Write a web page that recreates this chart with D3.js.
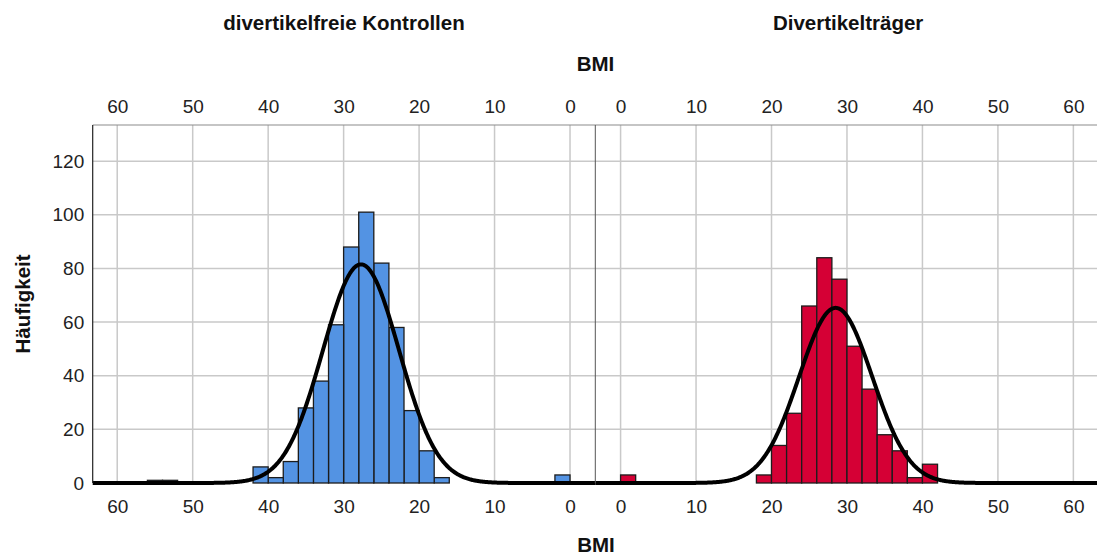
<!DOCTYPE html>
<html>
<head>
<meta charset="utf-8">
<script src="https://cdn.jsdelivr.net/npm/d3@7"></script>
<style>
  html, body { margin: 0; padding: 0; background: #fff; }
  svg { display: block; font-family: "Liberation Sans", Arial, sans-serif; }
</style>
</head>
<body>
<svg id="chart" width="1097" height="556"></svg>
<script>
// BMI histograms, bins of width 2 (lower bin edge -> count)
const binWidth = 2;

const kontrollenBinStart = [0, 16, 18, 20, 22, 24, 26, 28, 30, 32, 34, 36, 38, 40, 52, 54];
const kontrollenCounts   = [3, 2, 12, 27, 58, 82, 101, 88, 59, 38, 28, 8, 2, 6, 1, 1];

const traegerBinStart = [0, 18, 20, 22, 24, 26, 28, 30, 32, 34, 36, 38, 40];
const traegerCounts   = [3, 3, 14, 26, 66, 84, 76, 51, 35, 18, 12, 2, 7];

// fitted normal curves: mean, standard deviation, number of cases
const kontrollenFit = { mean: 27.7, sd: 5.05, n: 516 };
const traegerFit    = { mean: 28.5, sd: 4.85, n: 397 };

const panelTitles = ["divertikelfreie Kontrollen", "Divertikelträger"];
const xTicks = [0, 10, 20, 30, 40, 50, 60];
const yTicks = [0, 20, 40, 60, 80, 100, 120];

const svg = d3.select("#chart");

const plotTop = 125, plotBottom = 483;
const leftX0 = 92.7, mid = 595.3, rightX1 = 1097.9;
const domLo = -3.35, domHi = 63.25;

const y = d3.scaleLinear().domain([0, 133.5]).range([plotBottom, plotTop]);

const panels = [
  { title: panelTitles[0], bins: kontrollenBinStart, counts: kontrollenCounts, fit: kontrollenFit,
    fill: "#5393e3", x: d3.scaleLinear().domain([domHi, domLo]).range([leftX0, mid]), x0: leftX0, x1: mid },
  { title: panelTitles[1], bins: traegerBinStart, counts: traegerCounts, fit: traegerFit,
    fill: "#d50035", x: d3.scaleLinear().domain([domLo, domHi]).range([mid, rightX1]), x0: mid, x1: rightX1 }
];

const gridColor = "#c9c9c9";

// horizontal grid across both panels
svg.append("g")
  .selectAll("line")
  .data(yTicks.filter(d => d > 0))
  .join("line")
  .attr("x1", leftX0).attr("x2", rightX1)
  .attr("y1", d => y(d)).attr("y2", d => y(d))
  .attr("stroke", gridColor).attr("stroke-width", 1.5);

svg.append("defs").selectAll("clipPath")
  .data(panels)
  .join("clipPath")
  .attr("id", (d, i) => "clip" + i)
  .append("rect")
  .attr("x", d => d.x0).attr("y", plotTop - 5)
  .attr("width", d => d.x1 - d.x0).attr("height", plotBottom - plotTop + 10);

panels.forEach((p, i) => {
  const g = svg.append("g").attr("clip-path", `url(#clip${i})`);

  // vertical grid
  g.append("g").selectAll("line")
    .data(xTicks)
    .join("line")
    .attr("x1", d => p.x(d)).attr("x2", d => p.x(d))
    .attr("y1", plotTop).attr("y2", plotBottom)
    .attr("stroke", gridColor).attr("stroke-width", 1.5);

  // bars
  const bars = p.bins.map((b, k) => ({ lo: b, hi: b + binWidth, c: p.counts[k] }));
  g.append("g").selectAll("rect")
    .data(bars)
    .join("rect")
    .attr("x", d => Math.min(p.x(d.lo), p.x(d.hi)))
    .attr("width", d => Math.abs(p.x(d.hi) - p.x(d.lo)))
    .attr("y", d => y(d.c))
    .attr("height", d => y(0) - y(d.c))
    .attr("fill", p.fill)
    .attr("stroke", "#1c1c1c")
    .attr("stroke-width", 1.3);

  // normal curve scaled to counts per bin
  const f = p.fit;
  const dens = v => f.n * binWidth / (f.sd * Math.sqrt(2 * Math.PI)) *
    Math.exp(-0.5 * Math.pow((v - f.mean) / f.sd, 2));
  const pts = d3.range(domLo - 1, domHi + 1, 0.1).map(v => [v, dens(v)]);
  g.append("path")
    .datum(pts)
    .attr("fill", "none")
    .attr("stroke", "#000")
    .attr("stroke-width", 4)
    .attr("stroke-linejoin", "round")
    .attr("d", d3.line().x(d => p.x(d[0])).y(d => y(d[1])));

  // tick labels top and bottom
  const axTop = d3.axisTop(p.x).tickValues(xTicks).tickSize(0).tickPadding(0);
  const axBot = d3.axisBottom(p.x).tickValues(xTicks).tickSize(0).tickPadding(0);
  [[axTop, 113.3], [axBot, 513.3]].forEach(([ax, yy]) => {
    const a = svg.append("g").attr("transform", `translate(0,${yy})`).call(ax);
    a.select(".domain").remove();
    a.selectAll("text")
      .attr("y", 0).attr("dy", 0)
      .attr("font-size", 19)
      .attr("font-family", "Liberation Sans, Arial, sans-serif")
      .attr("fill", "#222");
  });

  // panel title
  svg.append("text")
    .attr("x", (p.x0 + p.x1) / 2 + (i === 1 ? 1.5 : 0))
    .attr("y", 30)
    .attr("text-anchor", "middle")
    .attr("font-size", 20.5)
    .attr("font-weight", "bold")
    .attr("fill", "#111")
    .text(p.title);
});

// frame: top border, panel divider, y axis line
svg.append("line").attr("x1", leftX0).attr("x2", rightX1).attr("y1", plotTop).attr("y2", plotTop)
  .attr("stroke", "#8c8c8c").attr("stroke-width", 1.2);
svg.append("line").attr("x1", mid).attr("x2", mid).attr("y1", plotTop).attr("y2", plotBottom)
  .attr("stroke", "#555").attr("stroke-width", 1);
svg.append("line").attr("x1", leftX0).attr("x2", leftX0).attr("y1", plotTop).attr("y2", plotBottom)
  .attr("stroke", "#222").attr("stroke-width", 1.2);

// y axis labels
const yAx = svg.append("g").attr("transform", `translate(${leftX0},0)`)
  .call(d3.axisLeft(y).tickValues(yTicks).tickSize(0).tickPadding(8.5));
yAx.select(".domain").remove();
yAx.selectAll("text")
  .attr("font-size", 19)
  .attr("font-family", "Liberation Sans, Arial, sans-serif")
  .attr("fill", "#222");

// axis titles
svg.append("text").attr("x", 595.5).attr("y", 70.7).attr("text-anchor", "middle")
  .attr("font-size", 20.5).attr("font-weight", "bold").attr("fill", "#111").text("BMI");
svg.append("text").attr("x", 596).attr("y", 552).attr("text-anchor", "middle")
  .attr("font-size", 20.5).attr("font-weight", "bold").attr("fill", "#111").text("BMI");
svg.append("text")
  .attr("transform", "translate(30,304) rotate(-90)")
  .attr("text-anchor", "middle")
  .attr("font-size", 20.5).attr("font-weight", "bold").attr("fill", "#111")
  .text("Häufigkeit");
</script>
</body>
</html>
